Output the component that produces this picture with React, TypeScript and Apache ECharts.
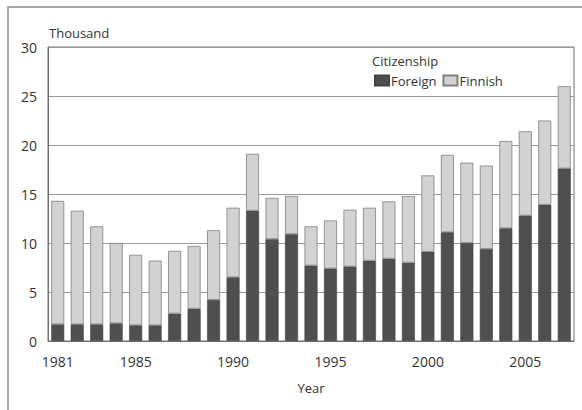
import React, { useEffect, useRef } from "react";
import * as echarts from "echarts";

const years = [
  "1981", "1982", "1983", "1984", "1985", "1986", "1987", "1988", "1989", "1990",
  "1991", "1992", "1993", "1994", "1995", "1996", "1997", "1998", "1999", "2000",
  "2001", "2002", "2003", "2004", "2005", "2006", "2007",
];
const foreign = [
  1.7, 1.7, 1.7, 1.8, 1.6, 1.6, 2.8, 3.3, 4.2, 6.5,
  13.3, 10.4, 10.9, 7.7, 7.4, 7.6, 8.2, 8.4, 8.0, 9.1,
  11.1, 10.0, 9.4, 11.5, 12.8, 13.9, 17.6,
];
const finnish = [
  12.6, 11.6, 10.0, 8.2, 7.2, 6.6, 6.4, 6.4, 7.1, 7.1,
  5.8, 4.2, 3.9, 4.0, 4.9, 5.8, 5.4, 5.85, 6.8, 7.8,
  7.9, 8.2, 8.5, 8.9, 8.6, 8.6, 8.4,
];
const yTicks = [0, 5, 10, 15, 20, 25, 30];

const FONT = "'Open Sans', 'Noto Sans', sans-serif";

export default function App() {
  const ref = useRef<HTMLDivElement>(null);
  useEffect(() => {
    if (!ref.current) return;
    const chart = echarts.init(ref.current, null, { renderer: "svg" });
    chart.setOption({
      animation: false,
      backgroundColor: "#fff",
      textStyle: { fontFamily: FONT },
      grid: { left: 48, right: 8, top: 47, bottom: 69, show: true, borderColor: "#6f6f6f", borderWidth: 1 },
      legend: {
        left: 369,
        top: 69,
        icon: "rect",
        itemWidth: 14,
        itemHeight: 10,
        itemGap: 6,
        textStyle: { fontFamily: FONT, fontSize: 13, color: "#333", padding: [0, 0, 0, -3] },
        data: ["Foreign", "Finnish"],
      },
      graphic: [
        {
          type: "rect",
          shape: { x: 8, y: 7, width: 700, height: 500 },
          style: { fill: "none", stroke: "#8a8a8a", lineWidth: 1.5 },
          silent: true,
        },
        {
          type: "text",
          left: 49,
          top: 26,
          style: { text: "Thousand", font: `13px ${FONT}`, fill: "#333" },
        },
        {
          type: "text",
          left: 372,
          top: 54,
          style: { text: "Citizenship", font: `13px ${FONT}`, fill: "#333" },
        },
      ],
      xAxis: {
        type: "category",
        data: years,
        name: "Year",
        nameLocation: "middle",
        nameGap: 40,
        nameTextStyle: { fontFamily: FONT, fontSize: 13, color: "#333" },
        axisLine: { lineStyle: { color: "#6f6f6f" } },
        axisTick: { alignWithLabel: true, length: 5, interval: 0, lineStyle: { color: "#bbb" } },
        axisLabel: {
          interval: (i: number, v: string) => v === "1981" || Number(v) % 5 === 0,
          margin: 13,
          fontSize: 14,
          color: "#333",
          fontFamily: FONT,
        },
      },
      yAxis: {
        type: "value",
        min: yTicks[0],
        max: yTicks[yTicks.length - 1],
        interval: 5,
        axisLine: { show: true, lineStyle: { color: "#6f6f6f" } },
        axisTick: { show: false },
        axisLabel: { margin: 11, fontSize: 14, color: "#333", fontFamily: FONT },
        splitLine: { lineStyle: { color: "#9a9a9a", width: 1 } },
      },
      series: [
        {
          name: "Foreign",
          type: "bar",
          stack: "total",
          data: foreign,
          barWidth: 13,
          itemStyle: { color: "#4f4f4f", borderColor: "#444", borderWidth: 0.6 },
        },
        {
          name: "Finnish",
          type: "bar",
          stack: "total",
          data: finnish,
          barWidth: 13,
          itemStyle: { color: "#d2d2d2", borderColor: "#808080", borderWidth: 0.8 },
        },
      ],
    });
    return () => chart.dispose();
  }, []);
  return (
    <div
      ref={ref}
      style={{ position: "fixed", left: 0, top: 0, width: 582, height: 410 }}
    />
  );
}
